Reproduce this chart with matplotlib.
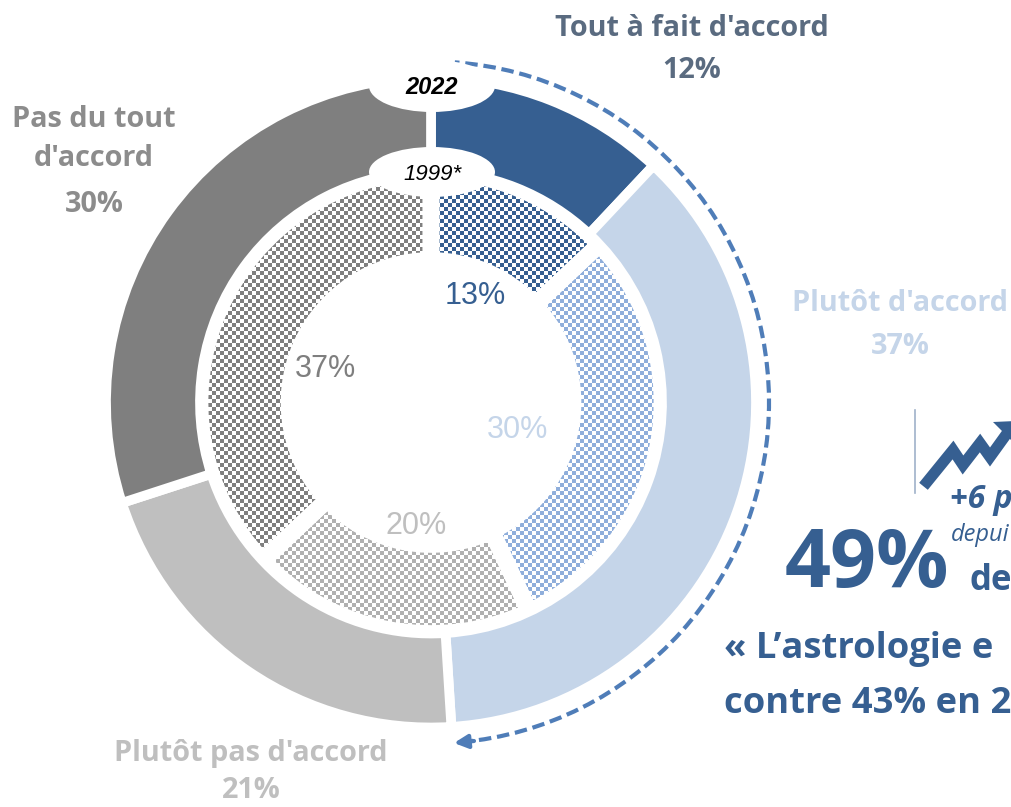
import numpy as np
import matplotlib
matplotlib.use("Agg")
import matplotlib.pyplot as plt
from matplotlib.colors import to_rgb
from matplotlib.patches import Arc, Ellipse, Polygon

W, H = 1012, 807

categories = ["Tout à fait d'accord", "Plutôt d'accord", "Plutôt pas d'accord", "Pas du tout\nd'accord"]
values_2022 = [12, 37, 21, 30]
values_1999 = [13, 30, 20, 37]
colors_2022 = ["#365F91", "#C5D5E9", "#BFBFBF", "#7F7F7F"]
colors_1999 = ["#365F91", "#8FAEDB", "#B0B0B0", "#7F7F7F"]
text_colors = ["#5A6B80", "#C5D5E9", "#BFBFBF", "#8C8C8C"]
inner_text_colors = ["#365F91", "#C5D5E9", "#BFBFBF", "#7F7F7F"]

BLUE = "#365F91"
DASH = "#4F7DB8"
CX, CY = 431, H - 402.5


def flip(y):
    return H - y


def checker_image(color):
    # 4 px checkerboard over the whole figure, clipped to a wedge afterwards
    yy, xx = np.mgrid[0:H, 0:W]
    on = ((xx // 4 + yy // 4) % 2 == 0)
    img = np.ones((H, W, 4))
    img[..., :3] = to_rgb(color)
    img[..., 3] = on.astype(float)
    return img


fig = plt.figure(figsize=(W / 100, H / 100), dpi=100)
ax = fig.add_axes([0, 0, 1, 1])

# inner ring 1999, hatched
inner, _ = ax.pie(values_1999, startangle=90, counterclock=False, center=(CX, CY), radius=231,
                  wedgeprops=dict(width=89, facecolor="none", edgecolor="white", linewidth=12, zorder=2))
for wedge, col in zip(inner, colors_1999):
    im = ax.imshow(checker_image(col), extent=(0, W, 0, H), origin="lower", interpolation="nearest", zorder=1)
    im.set_clip_path(wedge)

# outer ring 2022
ax.pie(values_2022, colors=colors_2022, startangle=90, counterclock=False, center=(CX, CY), radius=325,
       wedgeprops=dict(width=94, edgecolor="white", linewidth=7, zorder=3))

ax.set_xlim(0, W)
ax.set_ylim(0, H)
ax.set_aspect("equal")
ax.axis("off")

# year labels in white notches
for y, ew, eh, label, size in [(86, 126, 52, "2022", 17), (172, 126, 50, "1999*", 16)]:
    ax.add_patch(Ellipse((432, flip(y)), ew, eh, facecolor="white", edgecolor="none", zorder=4))
    ax.text(432, flip(y + 2), label, ha="center", va="center", fontsize=size, style="italic", fontweight="bold" if label == "2022" else "normal",
            family="Liberation Sans", color="black", zorder=5)

# dashed arc with arrow head
ax.add_patch(Arc((431, CY), 676, 682, theta1=-85, theta2=86, color=DASH, lw=3, ls=(0, (3, 1.4)), zorder=2))
ax.annotate("", xy=(454, flip(743)), xytext=(474, flip(741)),
            arrowprops=dict(arrowstyle="-|>", color=DASH, lw=3, mutation_scale=20, shrinkA=0, shrinkB=0), zorder=2)

# category labels
label_pos = [(692, 29, 70), (900, 304, 347), (251, 753, 791), (94, 139, 205)]
for cat, val, col, (x, y1, y2) in zip(categories, values_2022, text_colors, label_pos):
    ax.text(x, flip(y1), cat, ha="center", va="center", fontsize=20.8, fontweight="bold", family="Open Sans",
            color=col, linespacing=1.45, zorder=6)
    ax.text(x, flip(y2), f"{val}%", ha="center", va="center", fontsize=20.8, fontweight="bold", family="Open Sans",
            color=col, zorder=6)

# 1999 values
inner_pos = [(475, 296), (518, 430), (416, 526), (325, 369)]
for val, col, (x, y) in zip(values_1999, inner_text_colors, inner_pos):
    ax.text(x, flip(y), f"{val}%", ha="center", va="center", fontsize=22, family="Liberation Sans", color=col, zorder=6)

# right hand call-out, cut by the edge of the page
ax.plot([915, 915], [flip(410), flip(493)], color="#9FB2C9", lw=1.2, zorder=6)
zig_x = [927, 953, 963, 980, 990, 1008]
zig_y = [482, 450, 465, 443, 457, 432]
ax.plot(zig_x, [flip(v) for v in zig_y], color=BLUE, lw=8, solid_joinstyle="miter", zorder=6)
ax.add_patch(Polygon([(993, flip(422)), (1016, flip(421)), (1016, flip(445))], facecolor=BLUE, edgecolor="none", zorder=6))

ax.text(950, flip(499), "+6 p", ha="left", va="center", fontsize=23, fontweight="bold", style="italic",
        family="Open Sans", color=BLUE, zorder=6)
ax.text(951, flip(535), "depui", ha="left", va="center", fontsize=17, style="italic", family="Open Sans", color=BLUE, zorder=6)
ax.text(785, flip(566), "49%", ha="left", va="center", fontsize=58, fontweight="bold", family="Open Sans", color=BLUE, zorder=6)
ax.text(970, flip(581), "de", ha="left", va="center", fontsize=25, fontweight="bold", family="Open Sans", color=BLUE, zorder=6)
ax.text(724, flip(649), "« L’astrologie e", ha="left", va="center", fontsize=26.2, fontweight="bold", family="Open Sans", color=BLUE, zorder=6)
ax.text(724, flip(704), "contre 43% en 2", ha="left", va="center", fontsize=26.2, fontweight="bold", family="Open Sans", color=BLUE, zorder=6)

fig.savefig("out.png", dpi=100, facecolor="white")
